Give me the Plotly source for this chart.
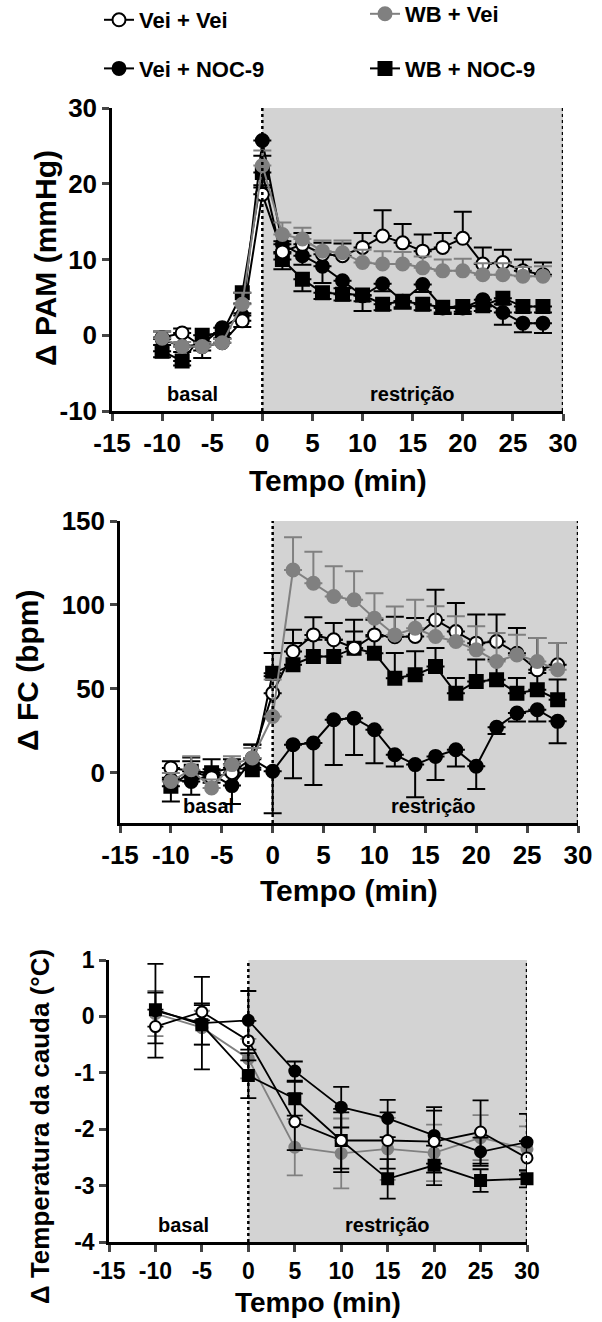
import plotly.graph_objects as go

# ---------------- data ----------------
t_min = [-10, -8, -6, -4, -2, 0, 2, 4, 6, 8, 10, 12, 14, 16, 18, 20, 22, 24, 26, 28]

pam_vei_vei = [-0.3, 0.3, -1.5, -1.0, 1.9, 18.6, 11.0, 12.0, 10.7, 10.5, 11.6, 13.1, 12.2, 11.1, 11.6, 12.8, 9.4, 9.6, 8.5, 8.0]
pam_vei_vei_err = [0.8, 0.6, 0.6, 0.6, 1.0, 1.2, 1.4, 1.5, 1.5, 1.6, 1.9, 3.4, 2.5, 2.2, 1.9, 3.5, 2.2, 1.7, 1.5, 1.6]
pam_wb_vei = [-0.4, -1.5, -1.5, -1.0, 4.1, 22.4, 13.3, 12.7, 11.1, 10.9, 9.6, 9.4, 9.4, 8.9, 8.5, 8.5, 8.0, 8.0, 7.8, 7.8]
pam_wb_vei_err = [0.9, 0.6, 0.5, 0.5, 1.5, 2.0, 1.6, 1.5, 1.4, 1.6, 1.7, 1.7, 1.6, 1.5, 1.5, 1.6, 1.5, 1.5, 1.2, 1.3]
pam_vei_noc = [-0.5, -1.5, -1.2, 1.0, 2.6, 25.7, 12.0, 10.5, 9.1, 7.2, 5.2, 6.8, 4.5, 6.7, 3.6, 3.6, 4.7, 3.0, 1.6, 1.6]
pam_vei_noc_err = [0.8, 0.7, 0.8, 0.8, 1.5, 2.0, 1.2, 1.2, 2.2, 1.0, 2.0, 1.0, 1.0, 1.0, 0.8, 0.8, 0.9, 1.6, 1.2, 1.3]
pam_wb_noc = [-2.1, -3.4, 0.0, 0.3, 5.6, 21.5, 10.0, 7.4, 5.6, 5.4, 5.3, 4.1, 4.5, 4.1, 3.7, 3.8, 3.9, 4.9, 3.8, 3.8]
pam_wb_noc_err = [0.8, 0.6, 3.0, 0.8, 1.4, 2.0, 1.3, 1.6, 0.8, 0.8, 0.8, 0.8, 0.8, 0.8, 0.7, 0.7, 0.7, 0.8, 0.8, 0.8]

fc_vei_vei = [2.8, 1.0, -3.0, 0.0, 8.7, 47.4, 72.2, 82.1, 79.2, 74.2, 82.1, 81.0, 81.2, 91.0, 84.1, 77.2, 78.2, 71.2, 61.3, 64.3]
fc_vei_vei_err = [4, 8, 5, 5, 8, 10, 13, 10.5, 10, 17, 9, 12, 11, 18, 17, 17, 16, 15, 19, 13]
fc_wb_vei = [-5.2, 1.8, -9.1, 4.8, 8.7, 33.5, 120.8, 112.9, 105.0, 103.0, 92.0, 82.1, 86.1, 81.2, 78.2, 73.2, 66.3, 70.2, 66.3, 61.3]
fc_wb_vei_err = [5, 8, 5, 5, 6, 22, 19.5, 18.8, 18, 17, 15, 17, 17, 18, 15, 14, 17, 12, 14, 16]
fc_vei_noc = [-4.2, -5.2, -1.0, -7.7, 8.0, 0.8, 16.7, 17.7, 31.5, 32.5, 25.6, 10.7, 4.8, 9.7, 13.7, 3.8, 27.0, 35.5, 37.5, 30.6]
fc_vei_noc_err = [13, 8, 5, 11, 5, 25, 20, 25, 27, 22, 20, 7, 19.5, 14, 10, 13.5, 4, 5, 7, 13]
fc_wb_noc = [-8.1, 0.8, 0.0, 3.0, 1.8, 59.3, 64.3, 69.2, 69.2, 74.2, 71.2, 56.3, 58.3, 63.3, 47.4, 54.4, 55.4, 47.4, 49.4, 43.5]
fc_wb_noc_err = [5, 6, 8, 5, 15, 12, 13, 10, 10, 10, 10, 15, 14, 11, 9, 13, 12, 9, 10, 12]

t_temp = [-10, -5, 0, 5, 10, 15, 20, 25, 30]
temp_vei_vei = [-0.18, 0.08, -0.43, -1.87, -2.2, -2.2, -2.22, -2.05, -2.51]
temp_vei_vei_err = [0.3, 0.15, 0.35, 0.5, 0.56, 0.5, 0.55, 0.56, 0.3]
temp_wb_vei = [0.05, -0.2, -0.75, -2.32, -2.43, -2.35, -2.42, -2.15, -2.35]
temp_wb_vei_err = [0.4, 0.3, 0.35, 0.5, 0.62, 0.55, 0.5, 0.4, 0.4]
temp_vei_noc = [0.1, -0.12, -0.07, -0.97, -1.61, -1.81, -2.11, -2.4, -2.23]
temp_vei_noc_err = [0.83, 0.82, 0.52, 0.17, 0.36, 0.33, 0.5, 0.25, 0.5]
temp_wb_noc = [0.12, -0.15, -1.05, -1.46, -2.2, -2.88, -2.64, -2.91, -2.88]
temp_wb_noc_err = [0.3, 0.35, 0.4, 0.3, 0.5, 0.35, 0.35, 0.2, 0.15]

x_ticks = [-15, -10, -5, 0, 5, 10, 15, 20, 25, 30]
group_names = ["Vei + Vei", "WB + Vei", "Vei + NOC-9", "WB + NOC-9"]

# ---------------- layout geometry (pixels) ----------------
W, H = 602, 1322
FONT = "Liberation Sans, Arial, sans-serif"
GREY = "#808080"
SHADE = "#d3d3d3"


def px_x(p):
    return p / W


def px_y(p):
    return 1 - p / H


panels = [
    # (x0, x1, ytop, ybottom, yrange, yticks)
    (112, 563, 108, 411, [-10, 30], [-10, 0, 10, 20, 30]),
    (120, 578, 521, 823, [-30, 150], [0, 50, 100, 150]),
    (109, 527, 960, 1242, [-4, 1], [-4, -3, -2, -1, 0, 1]),
]

fig = go.Figure()

styles = {
    "Vei + Vei": dict(color="black", fill="white", symbol="circle", rank=1, legend="legend"),
    "WB + Vei": dict(color=GREY, fill=GREY, symbol="circle", rank=1, legend="legend2"),
    "Vei + NOC-9": dict(color="black", fill="black", symbol="circle", rank=2, legend="legend"),
    "WB + NOC-9": dict(color="black", fill="black", symbol="square", rank=2, legend="legend2"),
}


def add(name, x, y, err, mode, panel, showlegend, msize, lw, cap):
    s = styles[name]
    zeros = [0] * len(err)
    if mode == "up":
        ey = dict(type="data", symmetric=False, array=err, arrayminus=zeros)
    elif mode == "down":
        ey = dict(type="data", symmetric=False, array=zeros, arrayminus=err)
    else:
        ey = dict(type="data", array=err)
    ey.update(color=s["color"], thickness=lw, width=cap)
    sfx = "" if panel == 1 else str(panel)
    fig.add_trace(go.Scatter(
        x=x, y=y, name=name, mode="lines+markers",
        line=dict(color=s["color"], width=lw),
        marker=dict(symbol=s["symbol"], size=msize, color=s["fill"],
                    line=dict(color=s["color"], width=2)),
        error_y=ey, legendgroup=name, showlegend=showlegend, legend=s["legend"],
        legendrank=s["rank"], xaxis="x" + sfx, yaxis="y" + sfx, cliponaxis=False,
    ))


# Panel 1 : PAM
add("WB + NOC-9", t_min, pam_wb_noc, pam_wb_noc_err, "down", 1, True, 13, 2, 9)
add("Vei + NOC-9", t_min, pam_vei_noc, pam_vei_noc_err, "down", 1, True, 13, 2, 9)
add("Vei + Vei", t_min, pam_vei_vei, pam_vei_vei_err, "up", 1, True, 13, 2, 9)
add("WB + Vei", t_min, pam_wb_vei, pam_wb_vei_err, "up", 1, True, 13, 2, 9)
# Panel 2 : FC
add("WB + NOC-9", t_min, fc_wb_noc, fc_wb_noc_err, "up", 2, False, 13, 2, 9)
add("Vei + NOC-9", t_min, fc_vei_noc, fc_vei_noc_err, "down", 2, False, 13, 2, 9)
add("Vei + Vei", t_min, fc_vei_vei, fc_vei_vei_err, "up", 2, False, 13, 2, 9)
add("WB + Vei", t_min, fc_wb_vei, fc_wb_vei_err, "up", 2, False, 13, 2, 9)
# Panel 3 : temperature
add("WB + Vei", t_temp, temp_wb_vei, temp_wb_vei_err, "both", 3, False, 11, 1.8, 8)
add("WB + NOC-9", t_temp, temp_wb_noc, temp_wb_noc_err, "both", 3, False, 11, 1.8, 8)
add("Vei + NOC-9", t_temp, temp_vei_noc, temp_vei_noc_err, "both", 3, False, 11, 1.8, 8)
add("Vei + Vei", t_temp, temp_vei_vei, temp_vei_vei_err, "both", 3, False, 11, 1.8, 8)

legend_common = dict(orientation="v", xanchor="left", yanchor="top",
                     font=dict(size=22, family=FONT, weight="bold"),
                     bgcolor="rgba(0,0,0,0)", itemwidth=30, borderwidth=0)

layout = dict(
    width=W, height=H,
    margin=dict(l=0, r=0, t=0, b=0, autoexpand=False),
    paper_bgcolor="white", plot_bgcolor="rgba(0,0,0,0)",
    font=dict(family=FONT, color="black", size=22, weight="bold"),
    showlegend=True,
    legend=dict(x=px_x(99), y=px_y(-1), tracegroupgap=17, **legend_common),
    legend2=dict(x=px_x(365), y=px_y(-7), tracegroupgap=23, **legend_common),
)

shapes = []
annotations = []
tick_sizes = [26, 26, 23]
for i, (x0, x1, yt, yb, yr, yt_vals) in enumerate(panels):
    sfx = "" if i == 0 else str(i + 1)
    xa = "xaxis" + sfx
    ya = "yaxis" + sfx
    layout[xa] = dict(
        domain=[px_x(x0), px_x(x1)], range=[-15, 30], anchor="y" + sfx,
        tickvals=x_ticks, ticktext=[str(v) for v in x_ticks],
        ticks="outside", ticklen=7, tickwidth=2.5,
        showline=True, linewidth=2.5, linecolor="black", showgrid=False, zeroline=False,
        tickfont=dict(size=tick_sizes[i]),
    )
    layout[ya] = dict(
        domain=[px_y(yb), px_y(yt)], range=yr, anchor="x" + sfx,
        tickvals=yt_vals, ticktext=[str(v) for v in yt_vals],
        ticks="outside", ticklen=7, tickwidth=2.5,
        showline=True, linewidth=2.5, linecolor="black", showgrid=False, zeroline=False,
        tickfont=dict(size=tick_sizes[i]),
    )
    xr = "x" + sfx
    yref = "y" + sfx
    shapes.append(dict(type="rect", xref=xr, yref=yref, x0=0, x1=30, y0=yr[0], y1=yr[1],
                       fillcolor=SHADE, line=dict(width=0), layer="below"))
    for xv in (0, 30):
        shapes.append(dict(type="line", xref=xr, yref=yref, x0=xv, x1=xv, y0=yr[0], y1=yr[1],
                           line=dict(color="black", width=2.5, dash="dot"), layer="above"))

layout["shapes"] = shapes

# labels inside panels
label_pos = [
    (-7.0, -7.8, 15.0, -7.8),
    (-6.3, -19.6, 15.8, -19.6),
    (-7.0, -3.7, 15.0, -3.7),
]
for i, (bx, by, rx, ry) in enumerate(label_pos):
    sfx = "" if i == 0 else str(i + 1)
    annotations.append(dict(text="basal", x=bx, y=by, xref="x" + sfx, yref="y" + sfx,
                            showarrow=False, font=dict(size=20)))
    annotations.append(dict(text="restrição", x=rx, y=ry, xref="x" + sfx, yref="y" + sfx,
                            showarrow=False, font=dict(size=20)))

# significance marks
annotations += [
    dict(text="#", x=31.4, y=4.1, xref="x", yref="y", showarrow=False, font=dict(size=21)),
    dict(text="#", x=31.4, y=1.2, xref="x", yref="y", showarrow=False, font=dict(size=21)),
    dict(text="#", x=31.3, y=27.4, xref="x2", yref="y2", showarrow=False, font=dict(size=21)),
]

# axis titles
x_titles = [(337.5, 480, 30), (349, 890, 30), (318, 1302, 28)]
for cx, cy, fs in x_titles:
    annotations.append(dict(text="Tempo (min)", x=px_x(cx), y=px_y(cy), xref="paper", yref="paper",
                            showarrow=False, font=dict(size=fs), xanchor="center", yanchor="middle"))
y_titles = [("Δ PAM (mmHg)", 45, 258, 30), ("Δ FC (bpm)", 28, 670, 30),
            ("Δ Temperatura da cauda (°C)", 40, 1127, 26)]
for txt, cx, cy, fs in y_titles:
    annotations.append(dict(text=txt, x=px_x(cx), y=px_y(cy), xref="paper", yref="paper",
                            showarrow=False, textangle=-90, font=dict(size=fs),
                            xanchor="center", yanchor="middle"))

layout["annotations"] = annotations
fig.update_layout(**layout)
fig.write_html(
    "out.html",
    config={"displayModeBar": False},
    post_script="document.body.style.margin='0';document.body.style.overflow='hidden';",
)
